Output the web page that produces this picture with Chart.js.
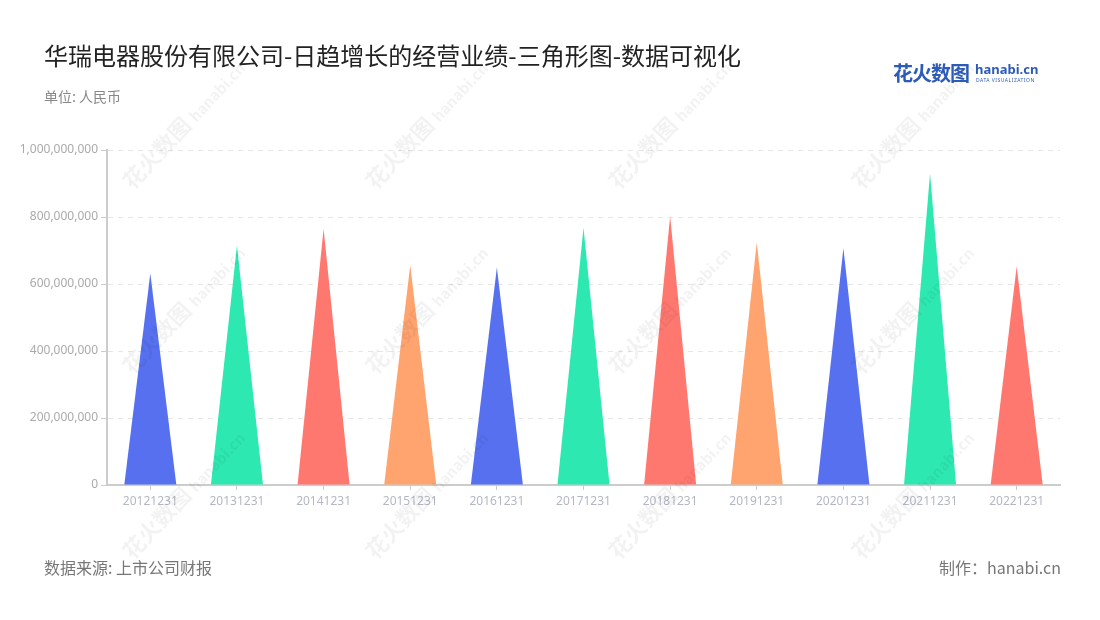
<!DOCTYPE html>
<html>
<head>
<meta charset="utf-8">
<script src="https://cdn.jsdelivr.net/npm/chart.js@4"></script>
<style>
  body { margin: 0; background: #fff; font-family: "Noto Sans CJK SC", "Noto Sans", sans-serif; }
  #wrap { position: relative; width: 1100px; height: 620px; overflow: hidden; }
  #chart { position: absolute; left: 0; top: 0; }
  .txt { position: absolute; white-space: nowrap; }
  #title { left: 44px; top: 37px; font-size: 24px; color: #222; }
  #unit { left: 44px; top: 86px; font-size: 14px; color: #888; }
  #source { left: 44px; top: 555px; font-size: 16px; color: #777; }
  #maker { right: 39px; top: 555px; font-size: 16px; color: #777; }
  #logo { left: 893px; top: 58px; }
  #logo .cn { font-size: 20px; font-weight: bold; color: #2d5bb8; letter-spacing: -1px; }
  #logo .en { position: absolute; left: 82px; top: 2px; font-size: 13px; font-weight: bold; color: #2d5bb8; font-family: "Noto Sans", sans-serif; }
  #logo .sub { position: absolute; left: 83px; top: 19px; font-size: 5px; color: #2d5bb8; letter-spacing: 0.5px; font-family: "Noto Sans", sans-serif; }
  .wm { position: absolute; transform: rotate(-47deg); transform-origin: center; color: rgba(0,0,0,0.05); font-size: 22px; font-weight: bold; white-space: nowrap; pointer-events: none; }
  .wm small { font-size: 15px; }
</style>
</head>
<body>
<div id="wrap">
  <canvas id="chart" width="1100" height="620"></canvas>
  <div class="txt" id="title">华瑞电器股份有限公司-日趋增长的经营业绩-三角形图-数据可视化</div>
  <div class="txt" id="unit">单位: 人民币</div>
  <div class="txt" id="source">数据来源: 上市公司财报</div>
  <div class="txt" id="maker">制作：hanabi.cn</div>
  <div class="txt" id="logo"><span class="cn">花火数图</span><span class="en">hanabi.cn</span><span class="sub">DATA VISUALIZATION</span></div>
</div>
<script>
const categories = ['20121231', '20131231', '20141231', '20151231', '20161231', '20171231',
  '20181231', '20191231', '20201231', '20211231', '20221231'];
const revenue = [631000000, 715000000, 765000000, 656000000, 649000000, 768000000,
  802000000, 725000000, 707000000, 930000000, 653000000];
const colors = ['#5770ef', '#2ee8b1', '#ff7870', '#ffa36f'];
const yTicks = [0, 200000000, 400000000, 600000000, 800000000, 1000000000];

// watermarks
const wrap = document.getElementById('wrap');
const wmCols = [182, 425, 668, 911];
const wmRows = [123, 308, 493];
wmRows.forEach(cy => wmCols.forEach(cx => {
  const d = document.createElement('div');
  d.className = 'wm';
  d.innerHTML = '花火数图 <small>hanabi.cn</small>';
  wrap.appendChild(d);
  d.style.left = (cx - d.offsetWidth / 2) + 'px';
  d.style.top = (cy - d.offsetHeight / 2) + 'px';
}));

const triangles = {
  id: 'triangles',
  afterDatasetsDraw(chart) {
    const ctx = chart.ctx;
    const meta = chart.getDatasetMeta(0);
    meta.data.forEach((el, i) => {
      const { x, y, base, width } = el.getProps(['x', 'y', 'base', 'width'], true);
      ctx.save();
      ctx.beginPath();
      ctx.moveTo(x - width / 2, base);
      ctx.lineTo(x, y);
      ctx.lineTo(x + width / 2, base);
      ctx.closePath();
      ctx.fillStyle = colors[i % colors.length];
      ctx.fill();
      ctx.restore();
    });
  }
};

new Chart(document.getElementById('chart'), {
  type: 'bar',
  data: {
    labels: categories,
    datasets: [{
      data: revenue,
      backgroundColor: 'rgba(0,0,0,0)',
      categoryPercentage: 1,
      barPercentage: 0.6
    }]
  },
  options: {
    responsive: false,
    animation: false,
    layout: { padding: { left: 0, right: 40, top: 150, bottom: 105 } },
    plugins: { legend: { display: false }, tooltip: { enabled: false } },
    scales: {
      x: {
        afterFit(s) { s.height = 30; },
        grid: { offset: false, drawOnChartArea: false, drawTicks: true, tickLength: 5, color: '#ccc' },
        border: { display: true, color: '#ccc', width: 2 },
        ticks: { color: '#b4b8c4', font: { size: 12, family: 'Noto Sans' }, padding: 4, maxRotation: 0 }
      },
      y: {
        min: 0,
        max: 1000000000,
        afterFit(s) { s.width = 107; },
        afterBuildTicks(s) { s.ticks = yTicks.map(v => ({ value: v })); },
        grid: { color: '#e6e6e6', tickColor: '#ccc', tickLength: 6, drawTicks: true },
        border: { display: true, color: '#ccc', width: 2, dash: [5, 5] },
        ticks: {
          color: '#aaa',
          font: { size: 12, family: 'Noto Sans' },
          padding: 3,
          callback: v => v.toLocaleString('en-US')
        }
      }
    }
  },
  plugins: [triangles]
});
</script>
</body>
</html>
